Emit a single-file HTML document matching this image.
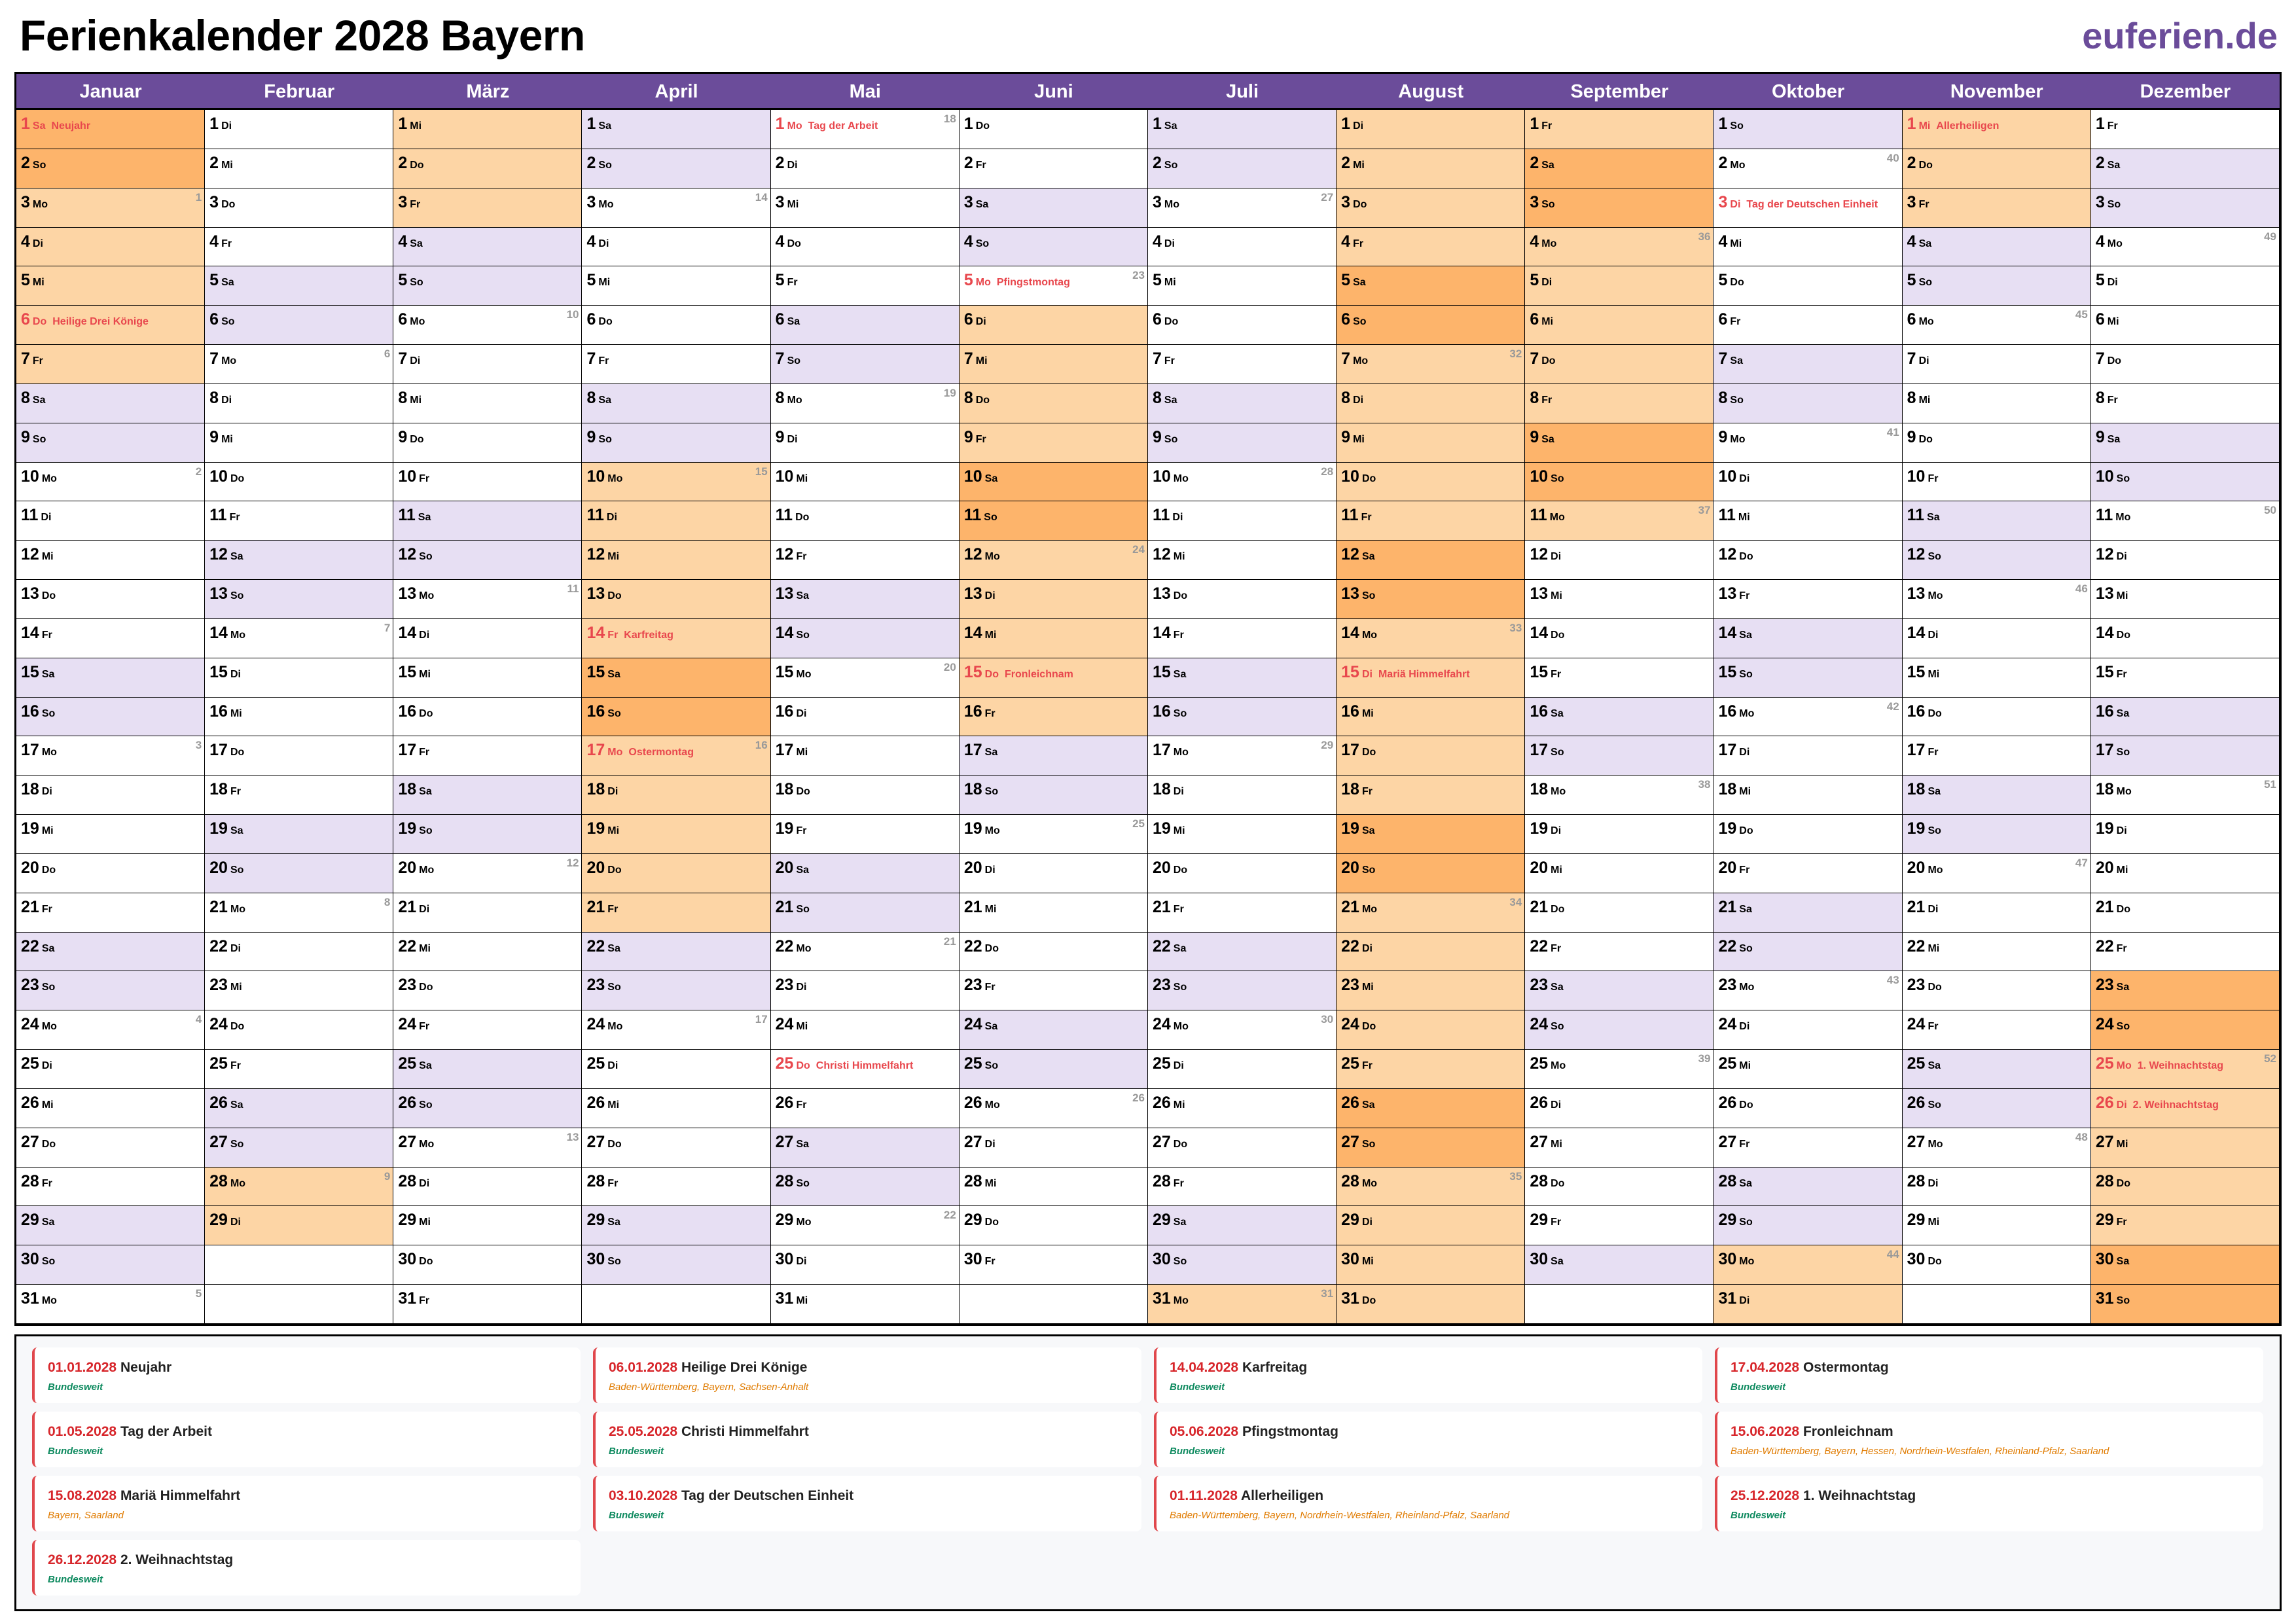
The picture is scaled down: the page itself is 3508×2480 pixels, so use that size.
<!DOCTYPE html>
<html><head><meta charset="utf-8"><style>
*{margin:0;padding:0;box-sizing:border-box}
body{width:3508px;height:2480px;background:#fff;font-family:"Liberation Sans",Arial,sans-serif;position:relative;overflow:hidden}
.t{position:absolute;left:30px;top:16px;font-size:66px;font-weight:bold;color:#000;letter-spacing:-0.5px}
.l{position:absolute;right:28px;top:22px;font-size:56px;font-weight:bold;color:#6B4C9A}
.g{position:absolute;left:22px;top:110px;width:3464px;height:1916px;border:3px solid #000;display:grid;grid-template-columns:repeat(12,1fr);grid-template-rows:55px repeat(31,1fr);grid-auto-flow:column;background:#fff}
.g b{background:#6B4C9A;color:#fff;font-size:29px;text-align:center;line-height:55px;border-bottom:3px solid #000}
.g i{display:block;font-style:normal;position:relative;border-right:1px solid #000;border-bottom:1px solid #000;padding:9px 0 0 7px;font-weight:bold;font-size:25px;line-height:1;color:#000;white-space:nowrap;overflow:hidden}
.g i s{text-decoration:none;font-size:16px;margin-left:4px}
.g i u{position:absolute;right:4px;top:5px;color:#999;font-size:17px;text-decoration:none}
.g i em{font-style:normal;font-size:16px;margin-left:9px}
.g i.w{background:#E7DFF3}.g i.f{background:#FDD5A5}.g i.F{background:#FDB46B}
.g i.h{color:#E8474D}
.n{position:absolute;left:22px;top:2039px;width:3464px;height:423px;border:3px solid #000;background:#F7F8FA;display:grid;grid-template-columns:repeat(4,838px);grid-template-rows:repeat(4,85px);gap:13px 19px;padding:17px 24px}
.c{background:#fff;border-left:4px solid #E0474C;border-radius:8px;padding:19px 0 0 20px}
.c p{font-size:21px;font-weight:bold;color:#222}
.c p span{color:#D7262B}
.c div{font-size:15px;font-style:italic;margin-top:9px}
.gr{color:#0E8A5F;font-weight:bold}.or{color:#E07B00}
</style></head><body>
<div class="t">Ferienkalender 2028 Bayern</div>
<div class="l">euferien.de</div>
<div class="g">
<b>Januar</b>
<i class="F h">1<s>Sa</s><em>Neujahr</em></i><i class="F">2<s>So</s></i><i class="f">3<s>Mo</s><u>1</u></i><i class="f">4<s>Di</s></i><i class="f">5<s>Mi</s></i><i class="f h">6<s>Do</s><em>Heilige Drei Könige</em></i><i class="f">7<s>Fr</s></i><i class="w">8<s>Sa</s></i><i class="w">9<s>So</s></i><i>10<s>Mo</s><u>2</u></i><i>11<s>Di</s></i><i>12<s>Mi</s></i><i>13<s>Do</s></i><i>14<s>Fr</s></i><i class="w">15<s>Sa</s></i><i class="w">16<s>So</s></i><i>17<s>Mo</s><u>3</u></i><i>18<s>Di</s></i><i>19<s>Mi</s></i><i>20<s>Do</s></i><i>21<s>Fr</s></i><i class="w">22<s>Sa</s></i><i class="w">23<s>So</s></i><i>24<s>Mo</s><u>4</u></i><i>25<s>Di</s></i><i>26<s>Mi</s></i><i>27<s>Do</s></i><i>28<s>Fr</s></i><i class="w">29<s>Sa</s></i><i class="w">30<s>So</s></i><i>31<s>Mo</s><u>5</u></i>
<b>Februar</b>
<i>1<s>Di</s></i><i>2<s>Mi</s></i><i>3<s>Do</s></i><i>4<s>Fr</s></i><i class="w">5<s>Sa</s></i><i class="w">6<s>So</s></i><i>7<s>Mo</s><u>6</u></i><i>8<s>Di</s></i><i>9<s>Mi</s></i><i>10<s>Do</s></i><i>11<s>Fr</s></i><i class="w">12<s>Sa</s></i><i class="w">13<s>So</s></i><i>14<s>Mo</s><u>7</u></i><i>15<s>Di</s></i><i>16<s>Mi</s></i><i>17<s>Do</s></i><i>18<s>Fr</s></i><i class="w">19<s>Sa</s></i><i class="w">20<s>So</s></i><i>21<s>Mo</s><u>8</u></i><i>22<s>Di</s></i><i>23<s>Mi</s></i><i>24<s>Do</s></i><i>25<s>Fr</s></i><i class="w">26<s>Sa</s></i><i class="w">27<s>So</s></i><i class="f">28<s>Mo</s><u>9</u></i><i class="f">29<s>Di</s></i><i></i><i></i>
<b>März</b>
<i class="f">1<s>Mi</s></i><i class="f">2<s>Do</s></i><i class="f">3<s>Fr</s></i><i class="w">4<s>Sa</s></i><i class="w">5<s>So</s></i><i>6<s>Mo</s><u>10</u></i><i>7<s>Di</s></i><i>8<s>Mi</s></i><i>9<s>Do</s></i><i>10<s>Fr</s></i><i class="w">11<s>Sa</s></i><i class="w">12<s>So</s></i><i>13<s>Mo</s><u>11</u></i><i>14<s>Di</s></i><i>15<s>Mi</s></i><i>16<s>Do</s></i><i>17<s>Fr</s></i><i class="w">18<s>Sa</s></i><i class="w">19<s>So</s></i><i>20<s>Mo</s><u>12</u></i><i>21<s>Di</s></i><i>22<s>Mi</s></i><i>23<s>Do</s></i><i>24<s>Fr</s></i><i class="w">25<s>Sa</s></i><i class="w">26<s>So</s></i><i>27<s>Mo</s><u>13</u></i><i>28<s>Di</s></i><i>29<s>Mi</s></i><i>30<s>Do</s></i><i>31<s>Fr</s></i>
<b>April</b>
<i class="w">1<s>Sa</s></i><i class="w">2<s>So</s></i><i>3<s>Mo</s><u>14</u></i><i>4<s>Di</s></i><i>5<s>Mi</s></i><i>6<s>Do</s></i><i>7<s>Fr</s></i><i class="w">8<s>Sa</s></i><i class="w">9<s>So</s></i><i class="f">10<s>Mo</s><u>15</u></i><i class="f">11<s>Di</s></i><i class="f">12<s>Mi</s></i><i class="f">13<s>Do</s></i><i class="f h">14<s>Fr</s><em>Karfreitag</em></i><i class="F">15<s>Sa</s></i><i class="F">16<s>So</s></i><i class="f h">17<s>Mo</s><em>Ostermontag</em><u>16</u></i><i class="f">18<s>Di</s></i><i class="f">19<s>Mi</s></i><i class="f">20<s>Do</s></i><i class="f">21<s>Fr</s></i><i class="w">22<s>Sa</s></i><i class="w">23<s>So</s></i><i>24<s>Mo</s><u>17</u></i><i>25<s>Di</s></i><i>26<s>Mi</s></i><i>27<s>Do</s></i><i>28<s>Fr</s></i><i class="w">29<s>Sa</s></i><i class="w">30<s>So</s></i><i></i>
<b>Mai</b>
<i class="h">1<s>Mo</s><em>Tag der Arbeit</em><u>18</u></i><i>2<s>Di</s></i><i>3<s>Mi</s></i><i>4<s>Do</s></i><i>5<s>Fr</s></i><i class="w">6<s>Sa</s></i><i class="w">7<s>So</s></i><i>8<s>Mo</s><u>19</u></i><i>9<s>Di</s></i><i>10<s>Mi</s></i><i>11<s>Do</s></i><i>12<s>Fr</s></i><i class="w">13<s>Sa</s></i><i class="w">14<s>So</s></i><i>15<s>Mo</s><u>20</u></i><i>16<s>Di</s></i><i>17<s>Mi</s></i><i>18<s>Do</s></i><i>19<s>Fr</s></i><i class="w">20<s>Sa</s></i><i class="w">21<s>So</s></i><i>22<s>Mo</s><u>21</u></i><i>23<s>Di</s></i><i>24<s>Mi</s></i><i class="h">25<s>Do</s><em>Christi Himmelfahrt</em></i><i>26<s>Fr</s></i><i class="w">27<s>Sa</s></i><i class="w">28<s>So</s></i><i>29<s>Mo</s><u>22</u></i><i>30<s>Di</s></i><i>31<s>Mi</s></i>
<b>Juni</b>
<i>1<s>Do</s></i><i>2<s>Fr</s></i><i class="w">3<s>Sa</s></i><i class="w">4<s>So</s></i><i class="h">5<s>Mo</s><em>Pfingstmontag</em><u>23</u></i><i class="f">6<s>Di</s></i><i class="f">7<s>Mi</s></i><i class="f">8<s>Do</s></i><i class="f">9<s>Fr</s></i><i class="F">10<s>Sa</s></i><i class="F">11<s>So</s></i><i class="f">12<s>Mo</s><u>24</u></i><i class="f">13<s>Di</s></i><i class="f">14<s>Mi</s></i><i class="f h">15<s>Do</s><em>Fronleichnam</em></i><i class="f">16<s>Fr</s></i><i class="w">17<s>Sa</s></i><i class="w">18<s>So</s></i><i>19<s>Mo</s><u>25</u></i><i>20<s>Di</s></i><i>21<s>Mi</s></i><i>22<s>Do</s></i><i>23<s>Fr</s></i><i class="w">24<s>Sa</s></i><i class="w">25<s>So</s></i><i>26<s>Mo</s><u>26</u></i><i>27<s>Di</s></i><i>28<s>Mi</s></i><i>29<s>Do</s></i><i>30<s>Fr</s></i><i></i>
<b>Juli</b>
<i class="w">1<s>Sa</s></i><i class="w">2<s>So</s></i><i>3<s>Mo</s><u>27</u></i><i>4<s>Di</s></i><i>5<s>Mi</s></i><i>6<s>Do</s></i><i>7<s>Fr</s></i><i class="w">8<s>Sa</s></i><i class="w">9<s>So</s></i><i>10<s>Mo</s><u>28</u></i><i>11<s>Di</s></i><i>12<s>Mi</s></i><i>13<s>Do</s></i><i>14<s>Fr</s></i><i class="w">15<s>Sa</s></i><i class="w">16<s>So</s></i><i>17<s>Mo</s><u>29</u></i><i>18<s>Di</s></i><i>19<s>Mi</s></i><i>20<s>Do</s></i><i>21<s>Fr</s></i><i class="w">22<s>Sa</s></i><i class="w">23<s>So</s></i><i>24<s>Mo</s><u>30</u></i><i>25<s>Di</s></i><i>26<s>Mi</s></i><i>27<s>Do</s></i><i>28<s>Fr</s></i><i class="w">29<s>Sa</s></i><i class="w">30<s>So</s></i><i class="f">31<s>Mo</s><u>31</u></i>
<b>August</b>
<i class="f">1<s>Di</s></i><i class="f">2<s>Mi</s></i><i class="f">3<s>Do</s></i><i class="f">4<s>Fr</s></i><i class="F">5<s>Sa</s></i><i class="F">6<s>So</s></i><i class="f">7<s>Mo</s><u>32</u></i><i class="f">8<s>Di</s></i><i class="f">9<s>Mi</s></i><i class="f">10<s>Do</s></i><i class="f">11<s>Fr</s></i><i class="F">12<s>Sa</s></i><i class="F">13<s>So</s></i><i class="f">14<s>Mo</s><u>33</u></i><i class="f h">15<s>Di</s><em>Mariä Himmelfahrt</em></i><i class="f">16<s>Mi</s></i><i class="f">17<s>Do</s></i><i class="f">18<s>Fr</s></i><i class="F">19<s>Sa</s></i><i class="F">20<s>So</s></i><i class="f">21<s>Mo</s><u>34</u></i><i class="f">22<s>Di</s></i><i class="f">23<s>Mi</s></i><i class="f">24<s>Do</s></i><i class="f">25<s>Fr</s></i><i class="F">26<s>Sa</s></i><i class="F">27<s>So</s></i><i class="f">28<s>Mo</s><u>35</u></i><i class="f">29<s>Di</s></i><i class="f">30<s>Mi</s></i><i class="f">31<s>Do</s></i>
<b>September</b>
<i class="f">1<s>Fr</s></i><i class="F">2<s>Sa</s></i><i class="F">3<s>So</s></i><i class="f">4<s>Mo</s><u>36</u></i><i class="f">5<s>Di</s></i><i class="f">6<s>Mi</s></i><i class="f">7<s>Do</s></i><i class="f">8<s>Fr</s></i><i class="F">9<s>Sa</s></i><i class="F">10<s>So</s></i><i class="f">11<s>Mo</s><u>37</u></i><i>12<s>Di</s></i><i>13<s>Mi</s></i><i>14<s>Do</s></i><i>15<s>Fr</s></i><i class="w">16<s>Sa</s></i><i class="w">17<s>So</s></i><i>18<s>Mo</s><u>38</u></i><i>19<s>Di</s></i><i>20<s>Mi</s></i><i>21<s>Do</s></i><i>22<s>Fr</s></i><i class="w">23<s>Sa</s></i><i class="w">24<s>So</s></i><i>25<s>Mo</s><u>39</u></i><i>26<s>Di</s></i><i>27<s>Mi</s></i><i>28<s>Do</s></i><i>29<s>Fr</s></i><i class="w">30<s>Sa</s></i><i></i>
<b>Oktober</b>
<i class="w">1<s>So</s></i><i>2<s>Mo</s><u>40</u></i><i class="h">3<s>Di</s><em>Tag der Deutschen Einheit</em></i><i>4<s>Mi</s></i><i>5<s>Do</s></i><i>6<s>Fr</s></i><i class="w">7<s>Sa</s></i><i class="w">8<s>So</s></i><i>9<s>Mo</s><u>41</u></i><i>10<s>Di</s></i><i>11<s>Mi</s></i><i>12<s>Do</s></i><i>13<s>Fr</s></i><i class="w">14<s>Sa</s></i><i class="w">15<s>So</s></i><i>16<s>Mo</s><u>42</u></i><i>17<s>Di</s></i><i>18<s>Mi</s></i><i>19<s>Do</s></i><i>20<s>Fr</s></i><i class="w">21<s>Sa</s></i><i class="w">22<s>So</s></i><i>23<s>Mo</s><u>43</u></i><i>24<s>Di</s></i><i>25<s>Mi</s></i><i>26<s>Do</s></i><i>27<s>Fr</s></i><i class="w">28<s>Sa</s></i><i class="w">29<s>So</s></i><i class="f">30<s>Mo</s><u>44</u></i><i class="f">31<s>Di</s></i>
<b>November</b>
<i class="f h">1<s>Mi</s><em>Allerheiligen</em></i><i class="f">2<s>Do</s></i><i class="f">3<s>Fr</s></i><i class="w">4<s>Sa</s></i><i class="w">5<s>So</s></i><i>6<s>Mo</s><u>45</u></i><i>7<s>Di</s></i><i>8<s>Mi</s></i><i>9<s>Do</s></i><i>10<s>Fr</s></i><i class="w">11<s>Sa</s></i><i class="w">12<s>So</s></i><i>13<s>Mo</s><u>46</u></i><i>14<s>Di</s></i><i>15<s>Mi</s></i><i>16<s>Do</s></i><i>17<s>Fr</s></i><i class="w">18<s>Sa</s></i><i class="w">19<s>So</s></i><i>20<s>Mo</s><u>47</u></i><i>21<s>Di</s></i><i>22<s>Mi</s></i><i>23<s>Do</s></i><i>24<s>Fr</s></i><i class="w">25<s>Sa</s></i><i class="w">26<s>So</s></i><i>27<s>Mo</s><u>48</u></i><i>28<s>Di</s></i><i>29<s>Mi</s></i><i>30<s>Do</s></i><i></i>
<b>Dezember</b>
<i>1<s>Fr</s></i><i class="w">2<s>Sa</s></i><i class="w">3<s>So</s></i><i>4<s>Mo</s><u>49</u></i><i>5<s>Di</s></i><i>6<s>Mi</s></i><i>7<s>Do</s></i><i>8<s>Fr</s></i><i class="w">9<s>Sa</s></i><i class="w">10<s>So</s></i><i>11<s>Mo</s><u>50</u></i><i>12<s>Di</s></i><i>13<s>Mi</s></i><i>14<s>Do</s></i><i>15<s>Fr</s></i><i class="w">16<s>Sa</s></i><i class="w">17<s>So</s></i><i>18<s>Mo</s><u>51</u></i><i>19<s>Di</s></i><i>20<s>Mi</s></i><i>21<s>Do</s></i><i>22<s>Fr</s></i><i class="F">23<s>Sa</s></i><i class="F">24<s>So</s></i><i class="f h">25<s>Mo</s><em>1. Weihnachtstag</em><u>52</u></i><i class="f h">26<s>Di</s><em>2. Weihnachtstag</em></i><i class="f">27<s>Mi</s></i><i class="f">28<s>Do</s></i><i class="f">29<s>Fr</s></i><i class="F">30<s>Sa</s></i><i class="F">31<s>So</s></i>
</div>
<div class="n">
<div class="c"><p><span>01.01.2028</span> Neujahr</p><div class="gr">Bundesweit</div></div>
<div class="c"><p><span>06.01.2028</span> Heilige Drei Könige</p><div class="or">Baden-Württemberg, Bayern, Sachsen-Anhalt</div></div>
<div class="c"><p><span>14.04.2028</span> Karfreitag</p><div class="gr">Bundesweit</div></div>
<div class="c"><p><span>17.04.2028</span> Ostermontag</p><div class="gr">Bundesweit</div></div>
<div class="c"><p><span>01.05.2028</span> Tag der Arbeit</p><div class="gr">Bundesweit</div></div>
<div class="c"><p><span>25.05.2028</span> Christi Himmelfahrt</p><div class="gr">Bundesweit</div></div>
<div class="c"><p><span>05.06.2028</span> Pfingstmontag</p><div class="gr">Bundesweit</div></div>
<div class="c"><p><span>15.06.2028</span> Fronleichnam</p><div class="or">Baden-Württemberg, Bayern, Hessen, Nordrhein-Westfalen, Rheinland-Pfalz, Saarland</div></div>
<div class="c"><p><span>15.08.2028</span> Mariä Himmelfahrt</p><div class="or">Bayern, Saarland</div></div>
<div class="c"><p><span>03.10.2028</span> Tag der Deutschen Einheit</p><div class="gr">Bundesweit</div></div>
<div class="c"><p><span>01.11.2028</span> Allerheiligen</p><div class="or">Baden-Württemberg, Bayern, Nordrhein-Westfalen, Rheinland-Pfalz, Saarland</div></div>
<div class="c"><p><span>25.12.2028</span> 1. Weihnachtstag</p><div class="gr">Bundesweit</div></div>
<div class="c"><p><span>26.12.2028</span> 2. Weihnachtstag</p><div class="gr">Bundesweit</div></div>
</div>
</body></html>
